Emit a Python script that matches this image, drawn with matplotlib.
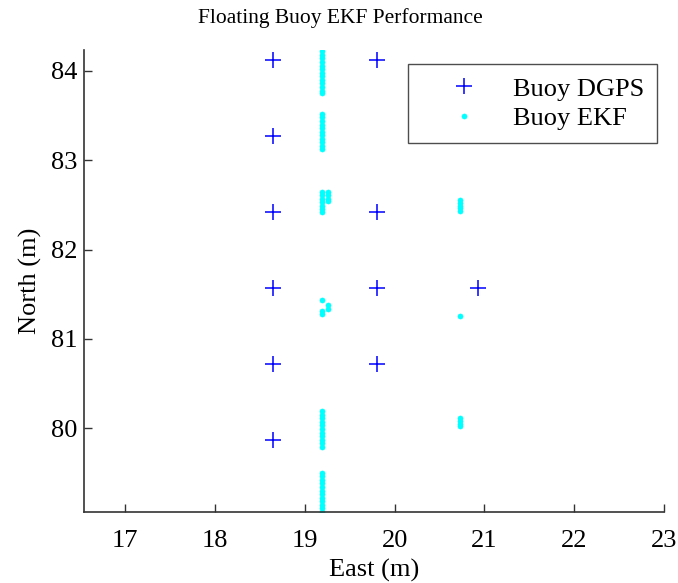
import matplotlib
matplotlib.use("Agg")
import matplotlib.pyplot as plt

# Buoy DGPS positions
dgps_east = [18.65, 19.80, 18.65, 18.65, 19.80, 18.65, 19.80, 20.93, 18.65, 19.80, 18.65]
dgps_north = [84.12, 84.12, 83.27, 82.42, 82.42, 81.57, 81.57, 81.57, 80.72, 80.72, 79.87]

# Buoy EKF estimates
ekf_east = (
    [19.19] * 13 + [19.19] * 11 + [19.19] * 7 + [19.26] * 4
    + [19.19, 19.26, 19.26, 19.19, 19.19]
    + [19.19] * 11 + [19.19] * 12
    + [20.73] * 5 + [20.73] + [20.73] * 4
)
ekf_north = (
    [84.22, 84.18, 84.14, 84.10, 84.06, 84.02, 83.98, 83.94, 83.90, 83.86, 83.82, 83.78, 83.75]
    + [83.52, 83.48, 83.44, 83.40, 83.36, 83.32, 83.28, 83.24, 83.20, 83.16, 83.13]
    + [82.65, 82.61, 82.57, 82.53, 82.49, 82.45, 82.42]
    + [82.65, 82.61, 82.57, 82.54]
    + [81.43, 81.38, 81.33, 81.31, 81.28]
    + [80.19, 80.15, 80.11, 80.07, 80.03, 79.99, 79.95, 79.91, 79.87, 79.83, 79.79]
    + [79.50, 79.46, 79.42, 79.38, 79.34, 79.30, 79.26, 79.22, 79.18, 79.14, 79.10, 79.06]
    + [82.55, 82.52, 82.49, 82.46, 82.43]
    + [81.26]
    + [80.11, 80.08, 80.05, 80.02]
)

x_ticks = [17, 18, 19, 20, 21, 22, 23]
y_ticks = [80, 81, 82, 83, 84]

plt.rcParams['font.family'] = ['Liberation Serif', 'DejaVu Serif']

fig = plt.figure(figsize=(6.78, 5.83), dpi=100)
ax = fig.add_axes([84 / 678, 1 - 512 / 583, (664 - 84) / 678, (512 - 50) / 583])

ax.plot(dgps_east, dgps_north, linestyle='none', marker='+', color='#0000ff',
        markersize=12, markeredgewidth=1.1, label='Buoy DGPS')
ax.plot(ekf_east, ekf_north, linestyle='none', marker='o', color='#00ffff',
        markersize=3.6, markeredgewidth=0.5, markeredgecolor='#00ffff',
        label='Buoy EKF', clip_on=True)

ax.set_xlim(16.54, 23.0)
ax.set_ylim(79.06, 84.235)
ax.set_xticks(x_ticks)
ax.set_yticks(y_ticks)
ax.tick_params(direction='in', length=6, width=1, labelsize=19, color='#333333')
ax.tick_params(axis='x', pad=13)
ax.tick_params(axis='y', pad=5)

for s in ['top', 'right']:
    ax.spines[s].set_visible(False)
for s in ['left', 'bottom']:
    ax.spines[s].set_color('#333333')
    ax.spines[s].set_linewidth(1.2)

fig.text(340 / 678, 1 - 18 / 583, 'Floating Buoy EKF Performance', fontsize=15.5,
         ha='center', va='center')
ax.set_xlabel('East (m)', fontsize=19, labelpad=5)
ax.set_ylabel('North (m)', fontsize=19, labelpad=6)

leg = ax.legend(loc='upper right', bbox_to_anchor=(657 / 678, 1 - 64 / 583),
                bbox_transform=fig.transFigure, fontsize=19, frameon=True,
                fancybox=False, edgecolor='#222222', borderpad=0.5,
                handlelength=3.25, handletextpad=0.2, labelspacing=0.22,
                borderaxespad=0, markerscale=1.0)
leg.get_frame().set_linewidth(1.0)

fig.savefig('out.png', dpi=100)
